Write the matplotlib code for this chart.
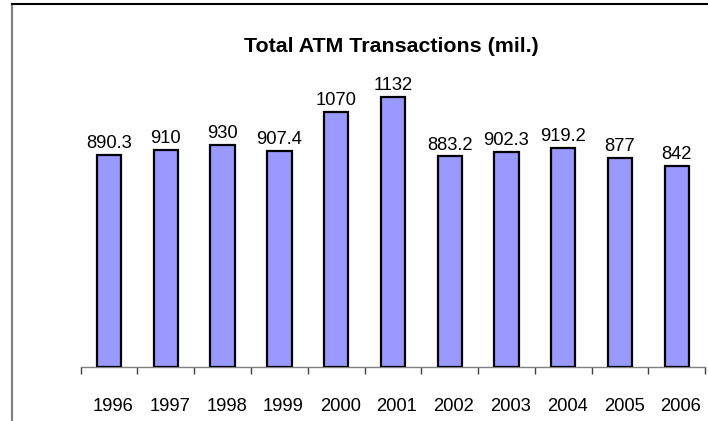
import matplotlib.pyplot as plt
import matplotlib.lines as mlines
import matplotlib.transforms as mtransforms

years = ['1996', '1997', '1998', '1999', '2000', '2001',
         '2002', '2003', '2004', '2005', '2006']
values = [890.3, 910, 930, 907.4, 1070, 1132, 883.2, 902.3, 919.2, 877, 842]
value_labels = ['890.3', '910', '930', '907.4', '1070', '1132',
                '883.2', '902.3', '919.2', '877', '842']

plt.rcParams['font.family'] = ['Liberation Sans', 'DejaVu Sans']

fig = plt.figure(figsize=(7.08, 4.21), dpi=100, facecolor='white')
ax = fig.add_axes([0.114, 0.128, 0.882, 0.68])

x = range(len(years))
ax.bar(x, values, width=0.43, color='#9999FF', edgecolor='black', linewidth=1.6, zorder=3)

for i, (v, lab) in enumerate(zip(values, value_labels)):
    ax.text(i, v + 12, lab, ha='center', va='bottom', fontsize=13.2, color='black')

ax.set_xlim(-0.5, len(years) - 0.5)
ax.set_ylim(0, 1200)
ax.set_yticks([])

# ticks between categories, labels centred under bars
ax.set_xticks([i - 0.5 for i in range(len(years) + 1)], minor=False)
ax.set_xticklabels([])
ax.set_xticks(list(x), minor=True)
ax.set_xticklabels(years, minor=True, fontsize=13.2)
ax.tick_params(axis='x', which='major', length=5, width=1, color='#404040', direction='out')
ax.tick_params(axis='x', which='minor', length=0, pad=22)
shift = mtransforms.ScaledTranslation(4 / 100, 0, fig.dpi_scale_trans)
for lbl in ax.get_xticklabels(minor=True):
    lbl.set_transform(lbl.get_transform() + shift)

for s in ['top', 'right', 'left']:
    ax.spines[s].set_visible(False)
ax.spines['bottom'].set_color('#808080')
ax.spines['bottom'].set_linewidth(1)

fig.text(0.553, 0.889, 'Total ATM Transactions (mil.)', ha='center', va='center',
         fontsize=15.4, fontweight='bold')

# chart frame (cropped: only top and left edges visible)
fig.add_artist(mlines.Line2D([12 / 708, 12 / 708], [0, 1 - 4 / 421],
                             color='#808080', lw=1.5, transform=fig.transFigure))
fig.add_artist(mlines.Line2D([12 / 708, 1], [1 - 4 / 421, 1 - 4 / 421],
                             color='black', lw=1.5, transform=fig.transFigure))

plt.savefig('out.png', dpi=100, facecolor='white')
